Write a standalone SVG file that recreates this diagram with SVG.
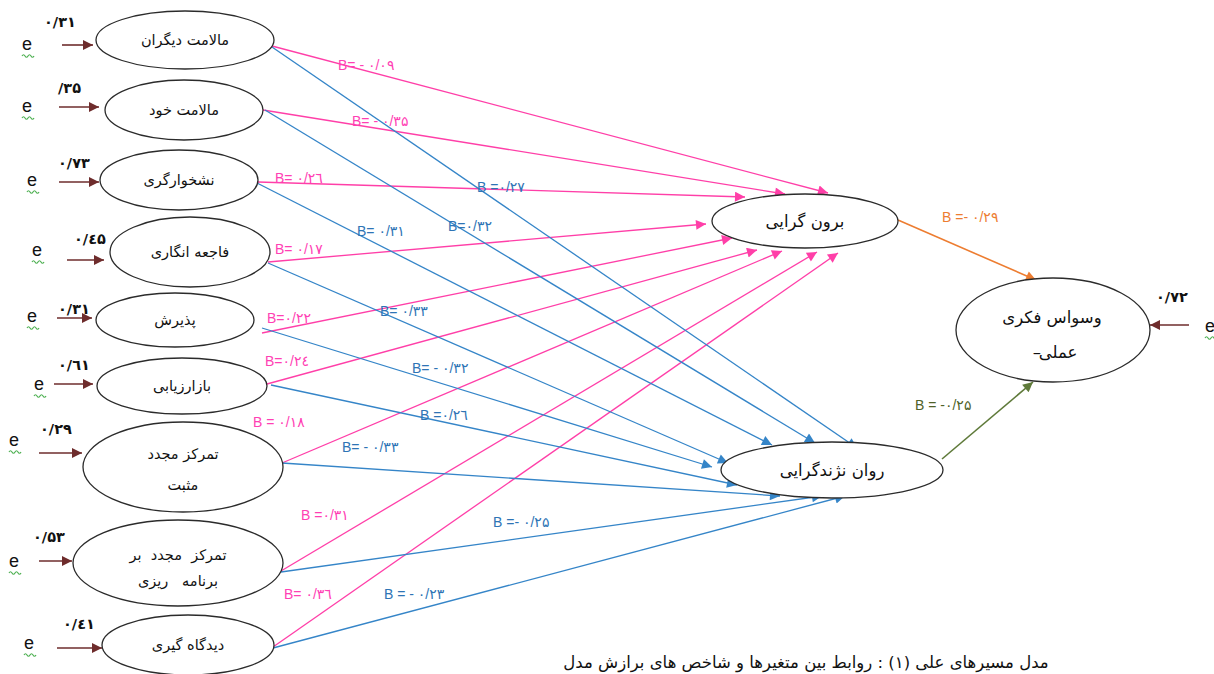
<svg xmlns="http://www.w3.org/2000/svg" width="1214" height="674" viewBox="0 0 1214 674">
<style>
.nd{fill:#fff;stroke:#2b2b2b;stroke-width:1.3}
.nt{font-family:"DejaVu Sans",sans-serif;font-size:14.5px;fill:#111;text-anchor:middle}
.nr{font-family:"DejaVu Sans",sans-serif;font-size:16.5px;fill:#111;text-anchor:middle}
.ev{font-family:"DejaVu Sans",sans-serif;font-size:14.5px;font-weight:bold;fill:#111}
.e{font-family:"Liberation Sans",sans-serif;font-size:18px;fill:#111}
.pk{stroke:#ff3fa8;stroke-width:1.3;fill:none;marker-end:url(#ap)}
.bl{stroke:#3585c8;stroke-width:1.3;fill:none;marker-end:url(#ab)}
.br{stroke:#6e2c2c;stroke-width:1.6;fill:none;marker-end:url(#abr)}
.lp{font-family:"Liberation Sans","DejaVu Sans",sans-serif;font-size:14px;fill:#ff3fb4}
.lb{font-family:"Liberation Sans","DejaVu Sans",sans-serif;font-size:14px;fill:#2e74b5}
.sq{stroke:#4caf50;stroke-width:1.2;fill:none}
</style>
<defs>
<marker id="ap" viewBox="0 0 10 10" refX="10" refY="5" markerWidth="13" markerHeight="10" markerUnits="userSpaceOnUse" orient="auto"><path d="M0,0 L10,5 L0,10 z" fill="#ff3fa8"/></marker>
<marker id="ab" viewBox="0 0 10 10" refX="10" refY="5" markerWidth="13" markerHeight="10" markerUnits="userSpaceOnUse" orient="auto"><path d="M0,0 L10,5 L0,10 z" fill="#3585c8"/></marker>
<marker id="abr" viewBox="0 0 10 10" refX="10" refY="5" markerWidth="13" markerHeight="10" markerUnits="userSpaceOnUse" orient="auto"><path d="M0,0 L10,5 L0,10 z" fill="#6e2c2c"/></marker>
<marker id="ao" viewBox="0 0 10 10" refX="10" refY="5" markerWidth="13" markerHeight="10" markerUnits="userSpaceOnUse" orient="auto"><path d="M0,0 L10,5 L0,10 z" fill="#ed7d31"/></marker>
<marker id="ag" viewBox="0 0 10 10" refX="10" refY="5" markerWidth="13" markerHeight="10" markerUnits="userSpaceOnUse" orient="auto"><path d="M0,0 L10,5 L0,10 z" fill="#5f7a3a"/></marker>
<path id="squig" d="M0,0 q1.5,-2.5 3,0 t3,0 t3,0 t3,0"/>
</defs>

<g id="connectors">
<line class="pk" x1="272" y1="46" x2="828" y2="193"/>
<line class="pk" x1="263" y1="110" x2="785" y2="194"/>
<line class="pk" x1="258" y1="182" x2="745" y2="197"/>
<line class="pk" x1="268" y1="262" x2="706" y2="224"/>
<line class="pk" x1="262" y1="333" x2="732" y2="238"/>
<line class="pk" x1="267" y1="384" x2="757" y2="250"/>
<line class="pk" x1="282" y1="463" x2="782" y2="251"/>
<line class="pk" x1="281" y1="571" x2="817" y2="252"/>
<line class="pk" x1="273" y1="647" x2="838" y2="253"/>

<line class="bl" x1="272" y1="47" x2="857" y2="448"/>
<line class="bl" x1="265" y1="110" x2="815" y2="443"/>
<line class="bl" x1="257" y1="183" x2="772" y2="445"/>
<line class="bl" x1="268" y1="263" x2="728" y2="463"/>
<line class="bl" x1="262" y1="328" x2="712" y2="467"/>
<line class="bl" x1="271" y1="385" x2="737" y2="485"/>
<line class="bl" x1="282" y1="463" x2="780" y2="496"/>
<line class="bl" x1="281" y1="572" x2="822" y2="496"/>
<line class="bl" x1="273" y1="648" x2="845" y2="496"/>

<line x1="898" y1="220" x2="1036" y2="280" stroke="#ed7d31" stroke-width="1.6" marker-end="url(#ao)"/>
<line x1="942" y1="459" x2="1033" y2="382" stroke="#5f7a3a" stroke-width="1.6" marker-end="url(#ag)"/>

<line class="br" x1="62" y1="45" x2="93" y2="45"/>
<line class="br" x1="59" y1="107" x2="99" y2="107"/>
<line class="br" x1="59" y1="182" x2="99" y2="182"/>
<line class="br" x1="67" y1="260" x2="104" y2="260"/>
<line class="br" x1="57" y1="318" x2="92" y2="318"/>
<line class="br" x1="54" y1="384" x2="93" y2="384"/>
<line class="br" x1="39" y1="453" x2="82" y2="453"/>
<line class="br" x1="39" y1="561" x2="72" y2="561"/>
<line class="br" x1="57" y1="648" x2="102" y2="648"/>
<line class="br" x1="1189" y1="325" x2="1150" y2="325"/>
</g>

<g id="path-labels">
<text class="lp" x="338" y="70">B= - ۰/۰۹</text>
<text class="lp" x="352" y="126">B= - ۰/۳۵</text>
<text class="lp" x="275" y="183">B=  ۰/۲٦</text>
<text class="lp" x="275" y="254">B=  ۰/۱۷</text>
<text class="lp" x="267" y="323">B=۰/۲۲</text>
<text class="lp" x="265" y="366">B=۰/۲٤</text>
<text class="lp" x="253" y="427">B =  ۰/۱۸</text>
<text class="lp" x="301" y="520">B =۰/۳۱</text>
<text class="lp" x="284" y="599">B=  ۰/۳٦</text>

<text class="lb" x="477" y="192">B  =۰/۲۷</text>
<text class="lb" x="357" y="236">B=  ۰/۳۱</text>
<text class="lb" x="448" y="231">B=۰/۳۲</text>
<text class="lb" x="380" y="316">B=  ۰/۳۳</text>
<text class="lb" x="412" y="373">B= - ۰/۳۲</text>
<text class="lb" x="420" y="420">B  =۰/۲٦</text>
<text class="lb" x="342" y="452">B= - ۰/۳۳</text>
<text class="lb" x="493" y="527">B =-  ۰/۲۵</text>
<text class="lb" x="384" y="599">B = - ۰/۲۳</text>

<text x="942" y="222" font-family="Liberation Sans, DejaVu Sans, sans-serif" font-size="14" fill="#ed7d31">B =-  ۰/۲۹</text>
<text x="915" y="410" font-family="Liberation Sans, DejaVu Sans, sans-serif" font-size="14" fill="#4f6228">B = -۰/۲۵</text>
</g>

<g id="errors">
<text class="e" x="22" y="50">e</text><use href="#squig" x="22" y="56" class="sq"/>
<text class="e" x="22" y="112">e</text><use href="#squig" x="22" y="118" class="sq"/>
<text class="e" x="27" y="186">e</text><use href="#squig" x="27" y="192" class="sq"/>
<text class="e" x="32" y="256">e</text><use href="#squig" x="32" y="262" class="sq"/>
<text class="e" x="27" y="322">e</text><use href="#squig" x="27" y="328" class="sq"/>
<text class="e" x="34" y="390">e</text><use href="#squig" x="34" y="396" class="sq"/>
<text class="e" x="9" y="446">e</text><use href="#squig" x="9" y="452" class="sq"/>
<text class="e" x="9" y="567">e</text><use href="#squig" x="9" y="573" class="sq"/>
<text class="e" x="24" y="649">e</text><use href="#squig" x="24" y="655" class="sq"/>
<text class="e" x="1205" y="332">e</text><use href="#squig" x="1205" y="338" class="sq"/>

<text class="ev" x="44" y="27">۰/۳۱</text>
<text class="ev" x="58" y="93">/۳۵</text>
<text class="ev" x="58" y="168">۰/۷۳</text>
<text class="ev" x="74" y="244">۰/٤۵</text>
<text class="ev" x="58" y="314">۰/۳۱</text>
<text class="ev" x="58" y="370">۰/٦۱</text>
<text class="ev" x="40" y="434">۰/۲۹</text>
<text class="ev" x="33" y="542">۰/۵۳</text>
<text class="ev" x="63" y="629">۰/٤۱</text>
<text class="ev" x="1156" y="302">۰/۷۲</text>
</g>

<g id="n1"><ellipse class="nd" cx="185" cy="40" rx="89" ry="29"/><text class="nt" x="185" y="45">مالامت دیگران</text></g>
<g id="n2"><ellipse class="nd" cx="184" cy="110" rx="79" ry="30"/><text class="nt" x="184" y="115">مالامت خود</text></g>
<g id="n3"><ellipse class="nd" cx="179" cy="180" rx="79" ry="30"/><text class="nt" x="179" y="185">نشخوارگری</text></g>
<g id="n4"><ellipse class="nd" cx="190" cy="252" rx="80" ry="35"/><text class="nt" x="190" y="257">فاجعه انگاری</text></g>
<g id="n5"><ellipse class="nd" cx="175" cy="320" rx="79" ry="27"/><text class="nt" x="175" y="325">پذیرش</text></g>
<g id="n6"><ellipse class="nd" cx="182" cy="386" rx="85" ry="28"/><text class="nt" x="182" y="391">بازارزیابی</text></g>
<g id="n7"><ellipse class="nd" cx="183" cy="467" rx="100" ry="45"/><text class="nt" x="183" y="459">تمرکز مجدد</text><text class="nt" x="183" y="490">مثبت</text></g>
<g id="n8"><ellipse class="nd" cx="178" cy="563" rx="105" ry="43"/><text class="nt" x="178" y="560" xml:space="preserve">تمرکز  مجدد  بر</text><text class="nt" x="178" y="586" xml:space="preserve">برنامه   ریزی</text></g>
<g id="n9"><ellipse class="nd" cx="188" cy="645" rx="86" ry="30"/><text class="nt" x="188" y="650">دیدگاه گیری</text></g>

<g id="extraversion"><ellipse class="nd" cx="805" cy="221" rx="93" ry="27"/><text class="nr" x="805" y="227">برون گرایی</text></g>
<g id="neuroticism"><ellipse class="nd" cx="832" cy="470" rx="111" ry="28"/><text class="nr" x="832" y="476">روان نژندگرایی</text></g>
<g id="ocd"><ellipse class="nd" cx="1053" cy="330" rx="97" ry="52"/><text class="nr" x="1052" y="323">وسواس فکری</text><text class="nr" x="1058" y="358">عملی</text><text x="1041" y="358" font-family="DejaVu Sans, sans-serif" font-size="16.5" fill="#111" text-anchor="end">–</text></g>

<text id="caption" x="806" y="668" font-family="DejaVu Sans, sans-serif" font-size="16.5" fill="#111" text-anchor="middle" direction="rtl">مدل مسیرهای علی (۱) : روابط بین متغیرها و شاخص های برازش مدل</text>
</svg>
